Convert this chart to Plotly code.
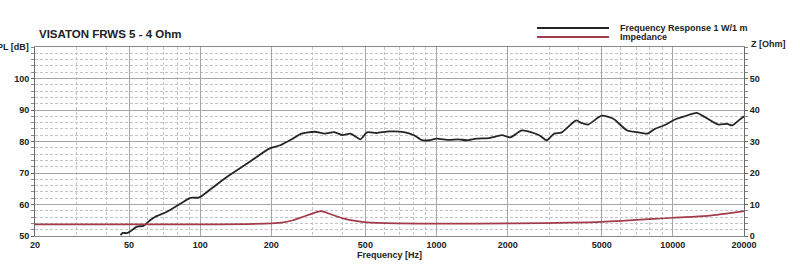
import plotly.graph_objects as go

# ---- data ----
freq_spl = [46, 47, 49, 50.5, 54, 57.5, 61.4, 64.6, 72.3, 82.7, 90.8, 98.7, 107, 130, 158, 197, 218,
            245, 268, 305, 336, 369, 400, 433, 476, 508, 557, 632, 728, 803, 870, 930, 1000, 1130,
            1240, 1340, 1475, 1670, 1892, 2050, 2300, 2720, 2920, 3150, 3370, 3900, 4100, 4380,
            5000, 5600, 6400, 7060, 7800, 8400, 9300, 10200, 11200, 12600, 13700, 15500, 17000,
            17800, 19000, 20000]
spl_db = [50.3, 51, 50.9, 51.4, 53, 53.2, 55, 56.1, 57.7, 60.3, 62.1, 62.2, 64, 68.8, 73, 77.8, 78.8,
          80.8, 82.5, 83.1, 82.5, 83, 82, 82.5, 80.7, 82.9, 82.7, 83.2, 83, 82, 80.4, 80.4, 80.9, 80.5,
          80.7, 80.4, 80.9, 81.1, 82, 81.3, 83.5, 82, 80.4, 82.5, 82.8, 86.7, 85.9, 85.4,
          88.2, 87.2, 83.5, 83, 82.5, 84, 85.3, 87, 88, 89.1, 87.7, 85.4, 85.6, 85.1, 86.7, 88]

freq_z = [20, 100, 200, 225, 247, 275, 300, 324, 354, 402, 461, 508, 700, 1000, 2000, 5000, 10000, 14000, 20000]
imp_ohm = [3.7, 3.7, 4.0, 4.3, 5.0, 6.2, 7.2, 7.9, 7.0, 5.6, 4.7, 4.3, 4.0, 3.9, 4.0, 4.5, 5.8, 6.4, 7.9]

x_ticks = [20, 50, 100, 200, 500, 1000, 2000, 5000, 10000, 20000]
x_minor = [30, 40, 60, 70, 80, 90, 300, 400, 600, 700, 800, 900, 3000, 4000, 6000, 7000, 8000, 9000]
y_left_ticks = [50, 60, 70, 80, 90, 100]
y_right_ticks = [0, 10, 20, 30, 40, 50]

title = "VISATON FRWS 5 - 4 Ohm"
legend_names = ["Frequency Response 1 W/1 m", "Impedance"]

BLACK = "#252525"
RED = "#a23b4b"
FONT = "Liberation Sans"
TICKFONT = dict(family=FONT, size=9, color="#222", weight="bold")

fig = go.Figure()
fig.add_trace(go.Scatter(x=freq_z, y=imp_ohm, mode="lines", yaxis="y2", name=legend_names[1],
                         line=dict(color=RED, width=1.7, shape="spline", smoothing=0.8)))
fig.add_trace(go.Scatter(x=freq_spl, y=spl_db, mode="lines", name=legend_names[0],
                         line=dict(color=BLACK, width=1.8, shape="spline", smoothing=0.6)))

fig.update_layout(
    width=800, height=274,
    margin=dict(l=35, r=56, t=47, b=38),
    paper_bgcolor="white", plot_bgcolor="white",
    showlegend=False,
    xaxis=dict(type="log", range=[1.30103, 4.30103], tickmode="array", tickvals=x_ticks,
               ticktext=[str(v) for v in x_ticks], tickfont=TICKFONT,
               showgrid=True, gridcolor="#a6a6a6", gridwidth=1.2,
               showline=True, linecolor="#8a8a8a", linewidth=1, mirror=True,
               ticks="", zeroline=False,
               minor=dict(tickmode="array", tickvals=x_minor, showgrid=True,
                          gridcolor="#c4c4c4", griddash="3px,2px", gridwidth=1, ticks=""),
               title=dict(text="Frequency [Hz]", font=dict(family=FONT, size=9, color="#222", weight="bold"),
                          standoff=2)),
    yaxis=dict(range=[50, 110], tickmode="array", tickvals=y_left_ticks, tickfont=TICKFONT,
               showgrid=True, gridcolor="#a6a6a6", gridwidth=1.2, zeroline=False,
               showline=True, linecolor="#6a6a6a", linewidth=1,
               ticks="outside", ticklen=3, tickcolor="#666",
               minor=dict(dtick=2, showgrid=True, gridcolor="#c4c4c4", griddash="3px,2px",
                          gridwidth=1, ticks="outside", ticklen=3, tickcolor="#888")),
    yaxis2=dict(range=[0, 60], overlaying="y", side="right", tickmode="array",
                tickvals=y_right_ticks, tickfont=TICKFONT, showgrid=False, zeroline=False,
                showline=True, linecolor="#6a6a6a", linewidth=1,
                ticks="outside", ticklen=3, tickcolor="#666",
                minor=dict(dtick=2, ticks="outside", ticklen=3, tickcolor="#888", showgrid=False)),
)

# title and axis titles
fig.add_annotation(text=title, xref="paper", yref="paper", x=0.003, y=1.0, yshift=13,
                   xanchor="left", yanchor="middle", showarrow=False,
                   font=dict(family=FONT, size=11.5, color="#222", weight="bold"))
fig.add_annotation(text="SPL [dB]", xref="paper", yref="paper", x=0, xshift=-4, y=1.0,
                   xanchor="right", yanchor="middle", showarrow=False,
                   font=dict(family=FONT, size=9, color="#222", weight="bold"))
fig.add_annotation(text="Z [Ohm]", xref="paper", yref="paper", x=1, xshift=5, y=1.0, yshift=3,
                   xanchor="left", yanchor="middle", showarrow=False,
                   font=dict(family=FONT, size=9, color="#222", weight="bold"))

# custom legend (long line samples as in the reference)
leg_y = [28, 37]
leg_cols = [BLACK, RED]
for name, col, yy in zip(legend_names, leg_cols, leg_y):
    fig.add_shape(type="line", xref="paper", yref="paper",
                  x0=(537 - 35) / 709, x1=(609 - 35) / 709,
                  y0=(236 - yy) / 189, y1=(236 - yy) / 189,
                  line=dict(color=col, width=2))
    fig.add_annotation(text=name, xref="paper", yref="paper", x=(618 - 35) / 709,
                       y=(236 - yy) / 189, xanchor="left", yanchor="middle", showarrow=False,
                       font=dict(family=FONT, size=9, color="#222", weight="bold"))

fig.write_html("out.html")
